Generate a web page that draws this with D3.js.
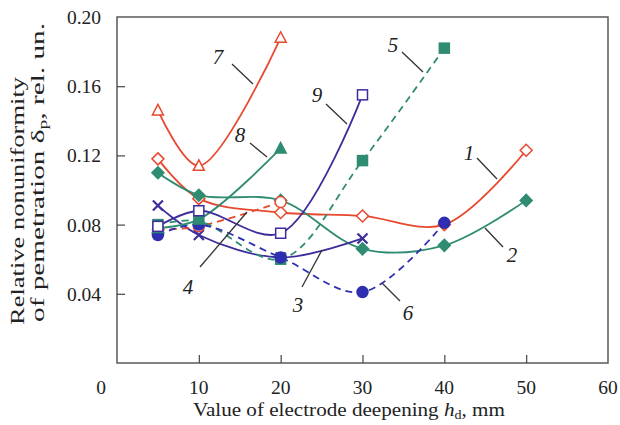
<!DOCTYPE html>
<html><head><meta charset="utf-8">
<script src="https://cdn.jsdelivr.net/npm/d3@7/dist/d3.min.js"></script>
<style>body{margin:0;background:#fff}svg{display:block}</style>
</head><body>
<svg id="c" width="620" height="425"></svg>
<script>
// Data
const xTicks = [0, 10, 20, 30, 40, 50, 60];
const yTicks = [0.04, 0.08, 0.12, 0.16, 0.20];
const s1x = [5, 10, 20, 30, 40, 50], s1y = [0.118, 0.095, 0.087, 0.085, 0.080, 0.123];
const s2x = [5, 10, 20, 30, 40, 50], s2y = [0.110, 0.097, 0.094, 0.066, 0.068, 0.094];
const s3x = [5, 10, 20, 30], s3y = [0.091, 0.074, 0.061, 0.072];
const s4x = [5, 10, 20], s4y = [0.077, 0.079, 0.093];
const s5x = [5, 10, 20, 30, 40], s5y = [0.080, 0.082, 0.060, 0.117, 0.182];
const s6x = [5, 10, 20, 30, 40], s6y = [0.074, 0.080, 0.061, 0.041, 0.081];
const s7x = [5, 10, 20], s7y = [0.146, 0.114, 0.188];
const s8x = [5, 10, 20], s8y = [0.078, 0.083, 0.124];
const s9x = [5, 10, 20, 30], s9y = [0.079, 0.088, 0.075, 0.155];
const seriesNames = ["1","2","3","4","5","6","7","8","9"];

const RED = "#e8482d", TEAL = "#2f8c72", INDIGO = "#3d2d9c", BLUE = "#2e2fb0";
const series = [
  {n:"1", x:s1x, y:s1y, c:RED, dash:null, m:"diamond", fill:false},
  {n:"2", x:s2x, y:s2y, c:TEAL, dash:null, m:"diamond", fill:true},
  {n:"3", x:s3x, y:s3y, c:INDIGO, dash:null, m:"cross", fill:false},
  {n:"4", x:s4x, y:s4y, c:RED, dash:"7,5", m:"circle", fill:false},
  {n:"5", x:s5x, y:s5y, c:TEAL, dash:"7,5", m:"square", fill:true},
  {n:"6", x:s6x, y:s6y, c:BLUE, dash:"7,5", m:"circle", fill:true},
  {n:"7", x:s7x, y:s7y, c:RED, dash:null, m:"triangle", fill:false},
  {n:"8", x:s8x, y:s8y, c:TEAL, dash:null, m:"triangle", fill:true},
  {n:"9", x:s9x, y:s9y, c:INDIGO, dash:null, m:"square", fill:false}
];

const svg = d3.select("#c");
const L = 117, R = 608, T = 17, B = 363;
const x = d3.scaleLinear().domain([0, 60]).range([L, R]);
const y = d3.scaleLinear().domain([0, 0.20]).range([B, T]);
const serif = "'Liberation Serif','Times New Roman',serif";

// frame
svg.append("rect").attr("x", L).attr("y", T).attr("width", R - L).attr("height", B - T)
  .attr("fill", "none").attr("stroke", "#5a5a5a").attr("stroke-width", 1.5);

// axes with inward ticks
const gx = svg.append("g").attr("transform", `translate(0,${B})`)
  .call(d3.axisTop(x).tickValues([10,20,30,40,50]).tickSize(8).tickFormat(""));
gx.select(".domain").remove();
gx.selectAll("line").attr("stroke", "#444").attr("stroke-width", 1.2);
const gy = svg.append("g").attr("transform", `translate(${L},0)`)
  .call(d3.axisRight(y).tickValues([0.04,0.08,0.12,0.16]).tickSize(8).tickFormat(""));
gy.select(".domain").remove();
gy.selectAll("line").attr("stroke", "#444").attr("stroke-width", 1.2);

// tick labels
svg.append("g").selectAll("text").data(xTicks).join("text")
  .attr("x", d => d === 0 ? 101 : x(d)).attr("y", 394).attr("text-anchor", "middle")
  .attr("font-family", serif).attr("font-size", 19.5).attr("fill", "#222").text(d => d);
svg.append("g").selectAll("text").data(yTicks).join("text")
  .attr("x", 101).attr("y", d => y(d) + 7).attr("text-anchor", "end")
  .attr("font-family", serif).attr("font-size", 19.5).attr("fill", "#222").text(d => d.toFixed(2));

// axis titles
const xt = svg.append("text").attr("x", 193).attr("y", 416)
  .attr("textLength", 312).attr("lengthAdjust", "spacingAndGlyphs")
  .attr("font-family", serif).attr("font-size", 18).attr("fill", "#222");
xt.append("tspan").text("Value of electrode deepening ");
xt.append("tspan").attr("font-style", "italic").text("h");
xt.append("tspan").attr("font-size", 12).attr("dy", 3).text("d");
xt.append("tspan").attr("dy", -3).text(", mm");

svg.append("text").attr("transform", "translate(24,325) rotate(-90)")
  .attr("textLength", 248).attr("lengthAdjust", "spacingAndGlyphs")
  .attr("font-family", serif).attr("font-size", 18).attr("fill", "#222").text("Relative nonuniformity");
const yt2 = svg.append("text").attr("transform", "translate(44,322) rotate(-90)")
  .attr("textLength", 299).attr("lengthAdjust", "spacingAndGlyphs")
  .attr("font-family", serif).attr("font-size", 18).attr("fill", "#222");
yt2.append("tspan").text("of pemetration δ");
yt2.append("tspan").attr("font-size", 12).attr("dy", 3).text("p");
yt2.append("tspan").attr("dy", -3).text(", rel. un.");

// lines
const line = d3.line().x(d => x(d[0])).y(d => y(d[1])).curve(d3.curveCatmullRom.alpha(0.5));
series.forEach(s => {
  const pts = s.x.map((v, i) => [v, s.y[i]]);
  svg.append("path").datum(pts).attr("d", line).attr("fill", "none")
    .attr("stroke", s.c).attr("stroke-width", 1.8)
    .attr("stroke-dasharray", s.dash);
});

// markers
function drawMarker(g, s, px, py) {
  const f = s.fill ? s.c : "#fff";
  if (s.m === "diamond") {
    g.append("path").attr("d", `M${px},${py-6}L${px+6},${py}L${px},${py+6}L${px-6},${py}Z`)
      .attr("fill", f).attr("stroke", s.c).attr("stroke-width", 1.5);
  } else if (s.m === "circle") {
    g.append("circle").attr("cx", px).attr("cy", py).attr("r", 5.5)
      .attr("fill", f).attr("stroke", s.c).attr("stroke-width", 1.5);
  } else if (s.m === "square") {
    g.append("rect").attr("x", px - 5).attr("y", py - 5).attr("width", 10).attr("height", 10)
      .attr("fill", f).attr("stroke", s.c).attr("stroke-width", 1.5);
  } else if (s.m === "triangle") {
    g.append("path").attr("d", `M${px},${py-6}L${px+5.5},${py+4.5}L${px-5.5},${py+4.5}Z`)
      .attr("fill", f).attr("stroke", s.c).attr("stroke-width", 1.5);
  } else if (s.m === "cross") {
    g.append("path").attr("d", `M${px-5},${py-5}L${px+5},${py+5}M${px-5},${py+5}L${px+5},${py-5}`)
      .attr("stroke", s.c).attr("stroke-width", 2.2);
  }
}
const mg = svg.append("g");
series.forEach(s => {
  s.x.forEach((v, i) => drawMarker(mg, s, x(v), y(s.y[i])));
});

// labels with leader lines
const labels = [
  {t:"1", tx:469, ty:153, l:[477,158,497,179]},
  {t:"2", tx:512, ty:255, l:[485,228,503,247]},
  {t:"3", tx:298, ty:305, l:[302,287,322,250]},
  {t:"4", tx:188, ty:287, l:[200,267,247,212]},
  {t:"5", tx:393, ty:45, l:[402,52,423,72]},
  {t:"6", tx:408, ty:313, l:[382,283,400,301]},
  {t:"7", tx:218, ty:57, l:[232,64,253,84]},
  {t:"8", tx:240, ty:135, l:[250,143,267,157]},
  {t:"9", tx:317, ty:95, l:[326,104,347,124]}
];
const lg = svg.append("g");
labels.forEach(d => {
  lg.append("line").attr("x1", d.l[0]).attr("y1", d.l[1]).attr("x2", d.l[2]).attr("y2", d.l[3])
    .attr("stroke", "#333").attr("stroke-width", 1.3);
  lg.append("text").attr("x", d.tx).attr("y", d.ty + 7).attr("text-anchor", "middle")
    .attr("font-family", serif).attr("font-style", "italic").attr("font-size", 21)
    .attr("fill", "#222").text(d.t);
});
</script>
</body></html>
